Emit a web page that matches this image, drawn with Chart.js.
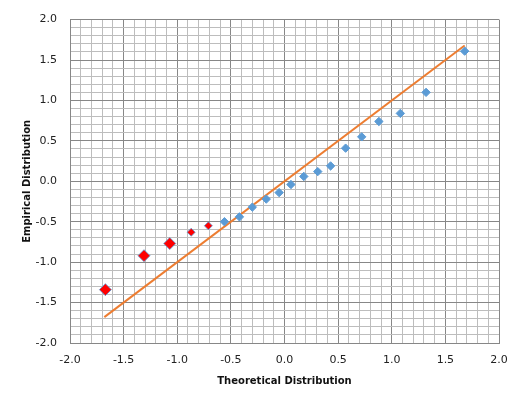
<!DOCTYPE html>
<html>
<head>
<meta charset="utf-8">
<script src="https://cdn.jsdelivr.net/npm/chart.js@4/dist/chart.umd.min.js"></script>
<style>
  html, body { margin: 0; padding: 0; background: #fff; }
  #wrap { width: 524px; height: 406px; }
</style>
</head>
<body>
<div id="wrap"><canvas id="qq"></canvas></div>
<script>
// theoretical (x) and empirical (y) quantiles
var bigRedX = [-1.67, -1.31, -1.07];
var bigRedY = [-1.34, -0.92, -0.77];
var smallRedX = [-0.87, -0.71];
var smallRedY = [-0.63, -0.55];
var blueX = [-0.56, -0.42, -0.30, -0.17, -0.05, 0.06, 0.18, 0.31, 0.43, 0.57, 0.72, 0.88, 1.08, 1.32, 1.68];
var blueY = [-0.50, -0.44, -0.32, -0.22, -0.14, -0.04, 0.06, 0.12, 0.19, 0.41, 0.55, 0.74, 0.84, 1.10, 1.61];
// reference line y = x
var lineX = [-1.68, 1.68];
var lineY = [-1.68, 1.68];

function pts(xs, ys) {
  return xs.map((x, i) => ({ x: x, y: ys[i] }));
}

var majorGrid = '#878787';
var minorGrid = '#bdbdbd';
var isMajor = v => Math.round(v * 10) % 5 === 0;

function gridColor(ctx) {
  return ctx.tick && isMajor(ctx.tick.value) ? majorGrid : minorGrid;
}

function tickLabel(v) {
  if (!isMajor(v)) return '';
  return (Math.round(v * 10) / 10).toFixed(1);
}

var tickFont = { family: 'Tahoma, "DejaVu Sans", sans-serif', size: 11 };
var titleFont = { family: 'Tahoma, "DejaVu Sans", sans-serif', size: 10, weight: 'bold' };

new Chart(document.getElementById('qq'), {
  type: 'scatter',
  data: {
    datasets: [
      {
        data: pts(bigRedX, bigRedY),
        pointStyle: 'rectRot',
        pointRadius: 6,
        pointHoverRadius: 6,
        backgroundColor: '#ff0000',
        borderColor: '#5b9bd5',
        borderWidth: 0.8
      },
      {
        data: pts(smallRedX, smallRedY),
        pointStyle: 'rectRot',
        pointRadius: 4,
        pointHoverRadius: 4,
        backgroundColor: '#ff0000',
        borderColor: '#5b9bd5',
        borderWidth: 0.8
      },
      {
        data: pts(blueX, blueY),
        pointStyle: 'rectRot',
        pointRadius: 4.2,
        pointHoverRadius: 4.2,
        backgroundColor: '#5b9bd5',
        borderColor: '#5b9bd5',
        borderWidth: 1
      },
      {
        data: pts(lineX, lineY),
        showLine: true,
        pointRadius: 0,
        borderColor: '#ed7d31',
        borderWidth: 2,
        fill: false
      }
    ]
  },
  options: {
    responsive: true,
    maintainAspectRatio: false,
    animation: false,
    layout: { padding: { top: 15, right: 25, left: 0, bottom: 0 } },
    plugins: {
      legend: { display: false },
      tooltip: { enabled: false }
    },
    scales: {
      x: {
        min: -2, max: 2,
        afterFit: s => { s.height = 63; },
        ticks: {
          stepSize: 0.1, autoSkip: false, maxRotation: 0,
          padding: 11, color: '#222', font: tickFont,
          callback: tickLabel
        },
        grid: { color: gridColor, lineWidth: 1, drawTicks: false },
        border: { color: majorGrid },
        title: {
          display: true, text: 'Theoretical Distribution',
          color: '#111', font: titleFont, padding: { bottom: 19 }
        }
      },
      y: {
        min: -2, max: 2,
        afterFit: s => { s.width = 70; },
        ticks: {
          stepSize: 0.1, autoSkip: false,
          padding: 13, color: '#222', font: tickFont,
          callback: tickLabel
        },
        grid: { color: gridColor, lineWidth: 1, drawTicks: false },
        border: { color: majorGrid },
        title: {
          display: true, text: 'Empirical Distribution',
          color: '#111', font: titleFont, padding: { top: 21 }
        }
      }
    }
  }
});
</script>
</body>
</html>
